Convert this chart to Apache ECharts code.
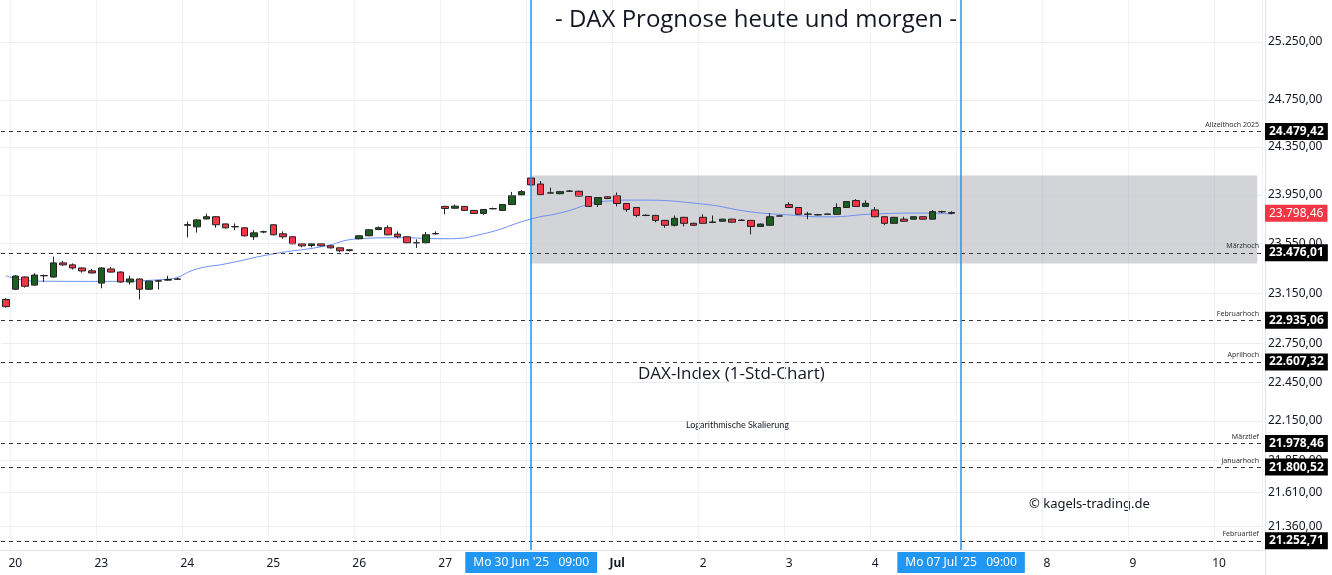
<!DOCTYPE html>
<html><head><meta charset="utf-8">
<script src="https://cdn.jsdelivr.net/npm/echarts@6/dist/echarts.min.js"></script>
<style>html,body{margin:0;padding:0;background:#fff}#c{width:1332px;height:575px}</style>
</head><body><div id="c"></div>
<script>
// candles: [open, close, low, high], one per hourly slot starting Jun 19 17:00
const candles = [
[23100,23043,23035,23110],[23182,23288,23175,23295],[23280,23206,23195,23285],[23215,23296,23210,23310],
[23290,23292,23240,23300],[23280,23394,23275,23444],[23394,23378,23370,23410],[23378,23353,23340,23390],
[23353,23329,23315,23358],[23330,23313,23308,23345],[23231,23353,23190,23358],[23345,23320,23315,23360],
[23320,23240,23235,23325],[23240,23264,23220,23290],[23264,23182,23100,23268],[23182,23247,23178,23250],
[23247,23250,23180,23255],[23255,23260,23250,23290],[23262,23264,23258,23275],[23700,23705,23600,23730],
[23687,23744,23640,23750],[23752,23770,23748,23795],[23770,23704,23680,23775],[23711,23679,23672,23715],
[23687,23689,23660,23715],[23679,23614,23608,23683],[23606,23638,23580,23660],[23645,23647,23635,23655],
[23704,23622,23618,23708],[23630,23606,23590,23650],[23606,23549,23545,23610],[23549,23532,23520,23552],
[23535,23550,23520,23553],[23550,23533,23528,23555],[23533,23516,23510,23536],[23516,23492,23480,23519],
[23495,23500,23485,23503],[23590,23614,23585,23618],[23614,23663,23610,23668],[23665,23680,23660,23690],
[23680,23622,23618,23700],[23628,23606,23595,23650],[23606,23557,23552,23610],[23555,23557,23515,23585],
[23557,23622,23552,23645],[23630,23632,23625,23650],[23855,23838,23790,23860],[23840,23857,23835,23870],
[23855,23822,23818,23858],[23822,23797,23793,23825],[23797,23830,23785,23833],[23835,23837,23830,23845],
[23822,23871,23818,23875],[23870,23944,23866,23975],[23950,23977,23946,23990],[24090,24033,24028,24095],
[24040,23952,23948,24065],[23965,23967,23960,24010],[23960,23977,23955,23980],[23980,23982,23975,23990],
[23980,23940,23935,23985],[23936,23855,23850,23940],[23871,23928,23850,23932],[23934,23920,23915,23938],
[23944,23879,23855,23970],[23879,23830,23810,23883],[23846,23781,23765,23850],[23780,23782,23775,23790],
[23781,23740,23725,23785],[23740,23700,23680,23744],[23700,23757,23690,23780],[23765,23716,23690,23769],
[23716,23700,23696,23720],[23765,23716,23712,23790],[23723,23727,23718,23780],[23733,23750,23728,23754],
[23750,23725,23720,23754],[23740,23742,23735,23750],[23740,23690,23625,23744],[23690,23710,23686,23714],
[23700,23770,23696,23800],[23775,23777,23770,23785],[23870,23846,23842,23890],[23846,23790,23786,23850],
[23790,23792,23750,23810],[23785,23787,23780,23792],[23790,23792,23786,23796],[23790,23846,23786,23880],
[23846,23895,23842,23899],[23903,23855,23850,23915],[23855,23880,23851,23905],[23826,23770,23766,23850],
[23770,23716,23700,23774],[23716,23765,23712,23769],[23750,23733,23729,23770],[23750,23770,23746,23774],
[23770,23750,23746,23774],[23750,23812,23746,23825],[23810,23812,23800,23820],[23805,23798,23790,23815]
];
// moving average [slot, value]
const maPoints = [[0,23290],[3,23247],[10,23245],[17,23263],[20,23345],[23,23386],[28,23467],[33,23524],
[37,23590],[41,23598],[46,23590],[50,23630],[55,23752],[58,23800],[63,23899],[66,23907],[73,23874],
[78,23810],[82,23785],[86,23769],[91,23793],[96,23800],[99,23793]];
const slotCount = 132;
const daySlots = [1,10,19,28,37,46,55,64,73,82,91,100,109,118,127];
const dayNames = ['20','23','24','25','26','27','30','Jul','2','3','4','7','8','9','10'];
const yTickValues = [25250,24750,24350,23950,23550,23150,22750,22450,22150,21850,21610,21360];
const yTickLabels = ['25.250,00','24.750,00','24.350,00','23.950,00','23.550,00','23.150,00','22.750,00','22.450,00','22.150,00','21.850,00','21.610,00','21.360,00'];
const levelValues = [24479.42,23476.01,22935.06,22607.32,21978.46,21800.52,21252.71];
const levelLabels = ['24.479,42','23.476,01','22.935,06','22.607,32','21.978,46','21.800,52','21.252,71'];
const levelNames = ['Allzeithoch 2025','Märzhoch','Februarhoch','Aprilhoch','Märztief','Januarhoch','Februartief'];
const lastPrice = 23798.46, lastPriceLabel = '23.798,46';
const forecastBox = [23390, 24110];
const markerSlots = [55, 100];
const markerLabels = ["Mo 30 Jun '25   09:00", "Mo 07 Jul '25   09:00"];

const categories = Array.from({length: slotCount}, (_, i) => {
  const k = daySlots.indexOf(i); return k >= 0 ? dayNames[k] : '';
});
const F = '"Noto Sans", sans-serif';

const tickLines = yTickValues.map((v, i) => ({
  yAxis: v, lineStyle: {color: 'rgba(200,203,215,0.35)', type: 'solid', width: 1},
  label: {show: true, position: 'end', distance: 6, formatter: yTickLabels[i], color: '#131722', fontSize: 12, fontFamily: F}
}));
const levelLines = levelValues.map((v, i) => ({
  yAxis: v, lineStyle: {color: '#333', type: [4, 4], width: 1},
  label: {show: true, position: 'end', distance: 3, formatter: levelLabels[i], color: '#fff', fontWeight: 'bold',
    backgroundColor: '#000', padding: [3, 4, 2, 4], fontSize: 12, fontFamily: F}
}));
const levelNameLines = levelValues.map((v, i) => ({
  yAxis: v, lineStyle: {color: 'transparent', width: 0},
  label: {show: true, position: 'insideEndTop', distance: 3, formatter: levelNames[i], color: '#333', fontSize: 7, fontFamily: F}
}));
const markerLines = markerSlots.map((s, i) => ({
  xAxis: s, lineStyle: {color: '#2196f3', type: 'solid', width: 1.5},
  label: {show: true, position: 'start', distance: 2, formatter: markerLabels[i], color: '#fff',
    backgroundColor: '#2196f3', padding: [5, 8, 4, 8], fontSize: 12, fontFamily: F}
}));
const priceLine = {
  yAxis: lastPrice, lineStyle: {color: 'transparent', width: 0},
  label: {show: true, position: 'end', distance: 3, formatter: lastPriceLabel, color: '#fff',
    backgroundColor: '#f23645', padding: [3, 4, 2, 4], fontSize: 12, fontFamily: F}
};

const chart = echarts.init(document.getElementById('c'));
chart.setOption({
  animation: false,
  backgroundColor: '#fff',
  grid: {left: 1, right: 70, top: 0, bottom: 25},
  xAxis: {
    type: 'category', data: categories, boundaryGap: true,
    axisLine: {show: true, lineStyle: {color: '#e0e3eb'}}, axisTick: {show: false},
    axisLabel: {interval: 0, color: '#131722', fontSize: 12, fontFamily: F, margin: 8,
      formatter: v => v === 'Jul' ? '{b|Jul}' : v, rich: {b: {fontWeight: 'bold', fontSize: 12, color: '#131722', fontFamily: F}}},
    splitLine: {show: true, interval: (i, v) => v !== '', lineStyle: {color: '#f0f3fa'}}
  },
  yAxis: {type: 'log', min: 21185, max: 25618, show: false, splitLine: {show: false}},
  graphic: [
    {type: 'text', left: 555, top: 8, style: {text: '- DAX Prognose heute und morgen -', fontSize: 24, fill: '#131722', fontFamily: '"Open Sans", sans-serif'}, z: 100},
    {type: 'text', left: 638, top: 366, style: {text: 'DAX-Index (1-Std-Chart)', fontSize: 17, fill: '#131722', fontFamily: '"Open Sans", sans-serif'}},
    {type: 'text', left: 686, top: 421, style: {text: 'Logarithmische Skalierung', fontSize: 9, fill: '#131722', fontFamily: 'Lato, sans-serif'}},
    {type: 'text', left: 1029, top: 498, style: {text: '© kagels-trading.de', fontSize: 13, fill: '#131722', fontFamily: F}},
    {type: 'line', shape: {x1: 1265.5, y1: 0, x2: 1265.5, y2: 575}, style: {stroke: '#e0e3eb', lineWidth: 1}}
  ],
  series: [
    {
      type: 'candlestick', data: candles, barWidth: 7,
      itemStyle: {color: '#1b5e20', color0: '#f23645', borderColor: '#222', borderColor0: '#222', borderWidth: 1},
      markArea: {silent: true, itemStyle: {color: 'rgba(120,123,134,0.33)'},
        data: [[{xAxis: markerSlots[0], yAxis: forecastBox[1]}, {xAxis: slotCount - 1, yAxis: forecastBox[0]}]]},
      markLine: {silent: true, symbol: 'none', data: tickLines}
    },
    {
      type: 'line', data: maPoints, smooth: true, showSymbol: false, connectNulls: true,
      lineStyle: {color: '#6d8ff5', width: 1}, z: 1,
      markLine: {silent: true, symbol: 'none', data: levelLines.concat(levelNameLines, markerLines, [priceLine])}
    }
  ]
});
</script></body></html>
